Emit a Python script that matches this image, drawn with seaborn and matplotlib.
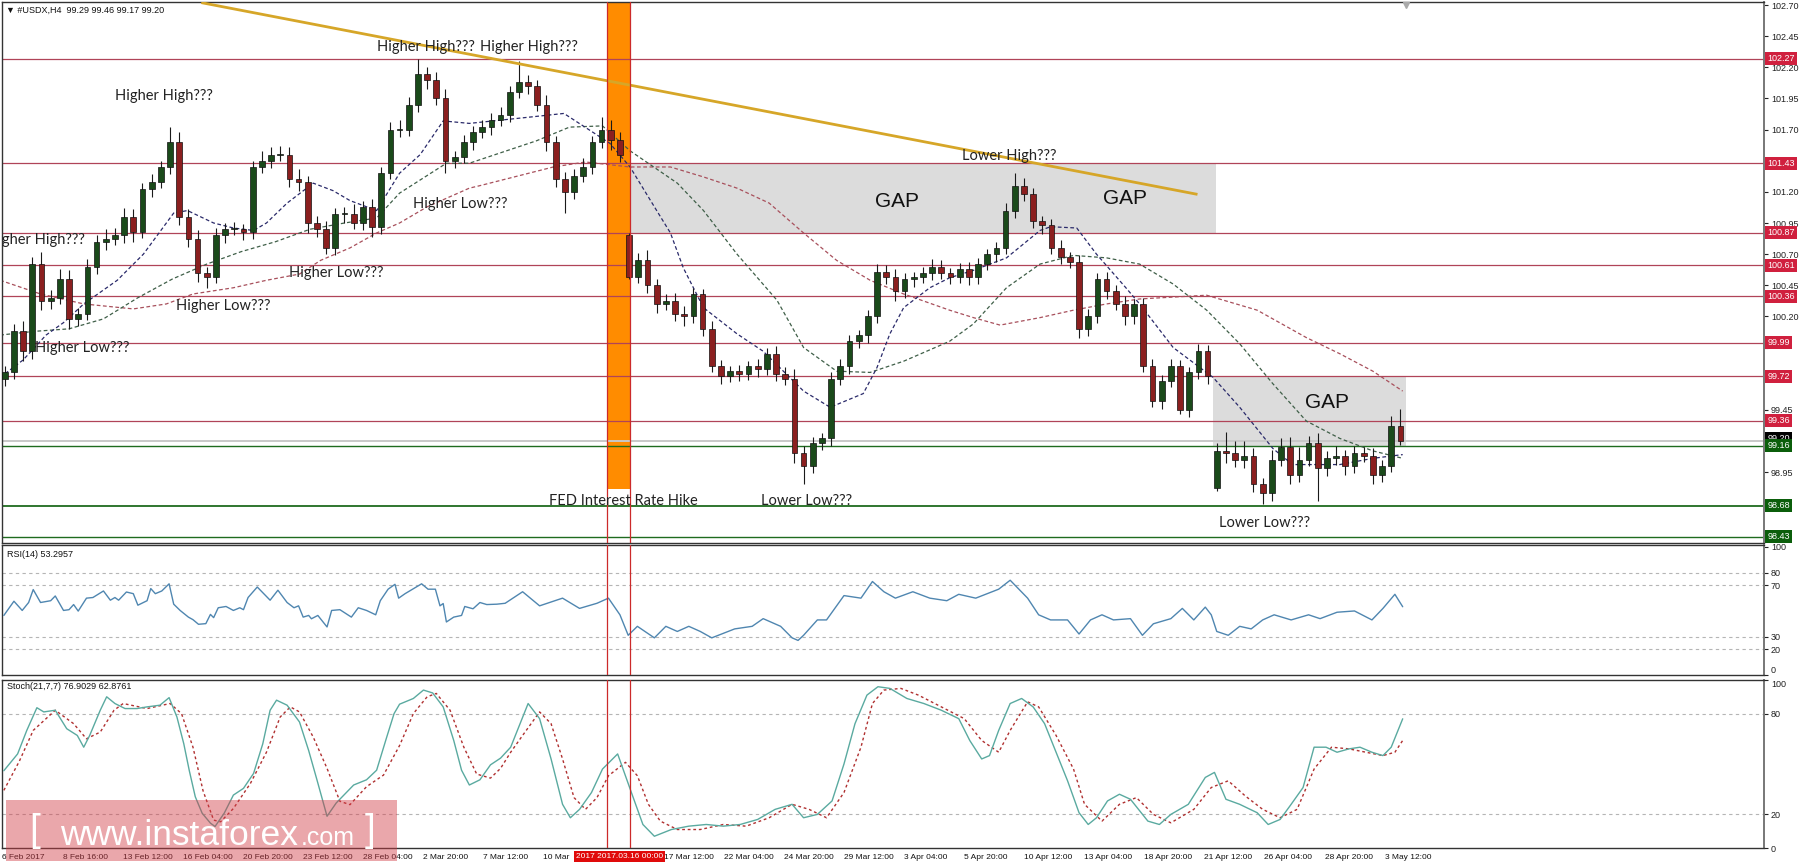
import matplotlib
matplotlib.use("Agg")
import matplotlib.pyplot as plt
import matplotlib.transforms as mtransforms
from matplotlib.patches import Rectangle
import numpy as np
import pandas as pd
import seaborn as sns

# ---- USDX H4 candles (one entry per bar) ----
closes = [
    99.75, 100.08, 99.92, 100.62, 100.32, 100.35, 100.50, 100.18, 100.22, 100.60,
    100.80, 100.82, 100.85, 101.00, 100.88, 101.22, 101.28, 101.40, 101.60, 101.00,
    100.82, 100.55, 100.52, 100.85, 100.90, 100.90, 100.88, 101.40, 101.45, 101.50,
    101.50, 101.30, 101.28, 100.95, 100.90, 100.75, 101.02, 101.02, 100.95, 101.08,
    100.92, 101.35, 101.70, 101.70, 101.90, 102.15, 102.10, 101.95, 101.45, 101.48,
    101.60, 101.68, 101.72, 101.78, 101.82, 102.00, 102.08, 102.05, 101.90, 101.60,
    101.30, 101.20, 101.33, 101.40, 101.60, 101.70, 101.62, 101.50, 100.52, 100.65,
    100.45, 100.30, 100.32, 100.22, 100.20, 100.38, 100.10, 99.80, 99.72, 99.76,
    99.74, 99.80, 99.78, 99.90, 99.74, 99.70, 99.10, 99.00, 99.18, 99.22,
    99.70, 99.80, 100.00, 100.05, 100.20, 100.56, 100.52, 100.40, 100.50, 100.52,
    100.55, 100.60, 100.55, 100.52, 100.58, 100.52, 100.62, 100.70, 100.75, 101.05,
    101.25, 101.18, 100.97, 100.93, 100.75, 100.68, 100.64, 100.10, 100.20, 100.50,
    100.40, 100.30, 100.20, 100.30, 99.80, 99.52, 99.68, 99.80, 99.45, 99.75,
    99.92, 99.72, 99.12, 99.10, 99.05, 99.08, 98.85, 98.78, 99.05, 99.15,
    98.93, 99.05, 99.18, 98.98, 99.06, 99.08, 99.00, 99.10, 99.08, 98.93,
    99.00, 99.32, 99.20,
]
# wick lengths in hundredths above / below the body
upper_wick = [
    5, 6, 8, 6, 10, 6, 8, 7, 5, 6,
    5, 8, 6, 7, 6, 5, 6, 5, 12, 8,
    6, 7, 5, 6, 5, 6, 4, 5, 8, 6,
    7, 6, 8, 5, 6, 7, 5, 6, 8, 5,
    6, 5, 6, 8, 6, 12, 5, 6, 8, 5,
    6, 5, 6, 5, 6, 5, 17, 6, 5, 8,
    5, 6, 5, 7, 5, 10, 8, 6, 2, 6,
    8, 5, 6, 7, 6, 5, 4, 6, 5, 4,
    5, 4, 6, 5, 6, 5, 8, 6, 5, 4,
    5, 6, 5, 4, 5, 6, 5, 6, 5, 4,
    5, 6, 5, 4, 5, 6, 5, 4, 5, 6,
    10, 6, 5, 4, 5, 6, 4, 5, 6, 5,
    6, 5, 6, 4, 5, 6, 5, 6, 5, 4,
    6, 5, 6, 15, 10, 12, 6, 5, 8, 7,
    8, 10, 6, 8, 6, 8, 5, 6, 5, 6,
    5, 8, 14,
]
lower_wick = [
    6, 5, 8, 6, 7, 6, 5, 8, 6, 5,
    6, 7, 5, 6, 8, 5, 6, 5, 6, 7,
    6, 7, 9, 5, 6, 5, 7, 6, 5, 6,
    5, 6, 7, 8, 6, 5, 6, 7, 5, 6,
    8, 6, 5, 6, 5, 6, 7, 5, 10, 6,
    5, 6, 5, 6, 5, 6, 5, 6, 5, 7,
    6, 17, 6, 5, 6, 5, 8, 6, 2, 5,
    6, 7, 5, 6, 8, 5, 6, 5, 6, 5,
    6, 5, 7, 5, 6, 5, 8, 15, 6, 5,
    6, 5, 6, 5, 6, 5, 6, 8, 5, 6,
    5, 6, 5, 6, 5, 7, 6, 5, 6, 5,
    6, 5, 6, 7, 5, 6, 5, 7, 6, 5,
    6, 5, 7, 6, 5, 5, 6, 5, 3, 6,
    5, 6, 2, 8, 6, 7, 6, 9, 6, 5,
    8, 6, 5, 26, 6, 5, 7, 6, 5, 8,
    6, 5, 3,
]
first_open = 99.70
gap_opens = {68: 100.85, 132: 98.82}

# ---- moving averages (bar, price) ----
ma_fast_bar = [-0.5, 2.0, 4.5, 6.4, 8.6, 12.25, 15.1, 18.4, 19.9, 22.75, 24.9, 27.1, 28.5,
               30.75, 33.6, 35.75, 37.6, 40.5, 43.0, 45.25, 47.75, 50.6, 54.5, 57.1, 60.9,
               65.9, 68.1, 71.0, 72.5, 73.9, 76.1, 79.75, 82.6, 87.0, 89.9, 93.5, 95.0,
               96.4, 97.9, 100.75, 102.9, 105.5, 109.1, 112.75, 113.9, 116.75, 118.9,
               122.1, 123.6, 127.25, 131.6, 134.5, 138.1, 140.25, 145.4, 149.0, 152.25]
ma_fast = [99.71, 99.85, 100.05, 100.15, 100.30, 100.49, 100.70, 101.03, 101.05, 100.95,
           100.91, 100.89, 100.95, 101.11, 101.27, 101.21, 101.13, 101.05, 101.35, 101.50,
           101.77, 101.75, 101.78, 101.80, 101.83, 101.59, 101.40, 101.05, 100.87, 100.59,
           100.27, 100.06, 99.92, 99.60, 99.47, 99.58, 99.79, 100.06, 100.27, 100.43,
           100.51, 100.57, 100.67, 100.89, 100.92, 100.91, 100.70, 100.43, 100.30, 99.95,
           99.71, 99.47, 99.14, 99.01, 99.01, 99.06, 99.09]
ma_mid_bar = [-0.5, 3.25, 7.0, 10.75, 14.5, 18.25, 22.0, 25.75, 29.5, 33.25, 37.0, 40.5,
              43.0, 48.1, 50.6, 57.9, 61.5, 65.1, 68.1, 73.25, 76.1, 79.75, 84.1, 87.0,
              90.6, 94.25, 97.9, 102.9, 105.5, 109.1, 112.75, 116.4, 120.0, 123.6, 127.25,
              130.9, 134.5, 138.1, 141.75, 145.4, 149.0, 152.25]
ma_mid = [100.05, 100.08, 100.10, 100.18, 100.35, 100.50, 100.62, 100.72, 100.80, 100.90,
          100.95, 100.99, 101.19, 101.43, 101.43, 101.61, 101.72, 101.73, 101.53, 101.27,
          101.05, 100.70, 100.33, 99.95, 99.76, 99.75, 99.84, 100.00, 100.14, 100.43,
          100.62, 100.69, 100.67, 100.62, 100.46, 100.25, 99.98, 99.66, 99.36, 99.22,
          99.12, 99.06]
ma_slow_bar = [-0.5, 3.9, 8.6, 14.0, 17.6, 20.5, 24.9, 28.5, 32.1, 34.4, 37.6, 40.5, 43.0,
               46.0, 50.6, 51.75, 59.75, 63.25, 68.1, 72.5, 76.1, 79.75, 83.25, 87.0, 90.6,
               94.25, 97.9, 102.9, 105.5, 108.4, 112.75, 116.4, 120.0, 123.6, 130.9, 136.4,
               141.75, 145.4, 149.0, 152.25]
ma_slow = [100.49, 100.38, 100.30, 100.26, 100.30, 100.38, 100.43, 100.49, 100.54, 100.65,
           100.75, 100.87, 100.95, 101.08, 101.23, 101.25, 101.40, 101.44, 101.40, 101.40,
           101.32, 101.23, 101.11, 100.87, 100.65, 100.49, 100.38, 100.25, 100.19, 100.13,
           100.19, 100.25, 100.30, 100.34, 100.37, 100.25, 100.03, 99.90, 99.76, 99.60]

# ---- RSI(14) ----
rsi_bar = [-0.1, 1.0, 1.9, 2.6, 3.1, 3.9, 5.0, 5.5, 6.4, 7.0, 7.5, 8.0, 8.9, 9.6, 10.75,
           11.5, 12.0, 12.4, 13.25, 14.0, 14.5, 15.5, 15.9, 16.4, 17.1, 17.9, 18.4, 19.1,
           20.0, 20.5, 21.1, 21.9, 22.4, 22.75, 23.25, 24.1, 24.9, 25.6, 26.0, 26.5, 27.5,
           28.1, 28.9, 29.75, 30.75, 31.5, 32.0, 32.5, 33.1, 33.4, 34.1, 35.1, 35.6, 36.5,
           37.75, 38.5, 39.4, 40.4, 40.9, 41.75, 42.5, 42.9, 43.6, 45.4, 46.1, 46.9, 47.4,
           47.75, 48.1, 48.9, 49.75, 50.1, 51.0, 51.75, 52.5, 53.6, 54.5, 56.4, 58.25, 60.75,
           62.6, 64.5, 65.75, 67.0, 67.9, 68.9, 70.75, 72.0, 73.25, 74.5, 75.75, 77.0, 79.5,
           81.4, 82.6, 84.5, 85.75, 86.4, 87.0, 88.5, 89.5, 91.4, 93.25, 94.5, 95.75, 97.0,
           98.9, 100.75, 102.6, 103.9, 105.75, 108.25, 109.5, 111.4, 112.6, 113.9, 115.75,
           117.0, 118.25, 119.5, 120.75, 122.6, 123.9, 125.1, 127.0, 128.25, 129.5, 130.75,
           131.4, 132.0, 133.25, 134.5, 135.75, 137.0, 138.25, 140.1, 142.0, 143.25, 145.1,
           147.0, 148.9, 150.1, 151.4, 152.25]
rsi_val = [46.5, 57.6, 50.4, 56.6, 66.7, 56.6, 58, 61.7, 50.4, 51, 55, 49.9, 60, 60.5, 65.6,
           58.4, 60.5, 58.4, 64.8, 63.5, 54.5, 58, 67.5, 63.5, 65.6, 71.2, 55.3, 50.4,
           45.2, 43.2, 39.6, 40.1, 47.3, 44.8, 52.5, 53.5, 50.4, 52.5, 51, 60.5, 68.7,
           64.3, 58.4, 66.2, 56.6, 52.5, 54, 45.2, 46.5, 43.9, 46.5, 37.5, 50.4, 51,
           45.2, 52.5, 50.4, 47, 58, 67, 70.8, 60, 63.5, 71.2, 67, 67, 54,
           55.8, 41.4, 45.2, 46.5, 53.5, 51.7, 56.6, 55, 55.3, 56, 65, 54, 60,
           52, 56, 60, 47, 31, 38, 29, 38, 34, 38, 34, 29, 36,
           38, 44, 38, 29, 27, 31, 43, 43, 62, 60, 73, 65, 60,
           65, 60, 58, 63, 60, 67, 74, 60, 47, 43, 43,
           32, 43, 47, 43, 44, 31, 40, 44, 52, 43, 53,
           47, 34, 31, 38, 36, 43, 47, 43, 47, 44, 49,
           50, 43, 52, 63, 53.3]

# ---- Stochastic(21,7,7) ----
stoch_bar = [-0.1, 1.4, 2.4, 3.5, 4.25, 5.5, 6.75, 7.9, 8.6, 9.25, 10.4, 11.1, 12.0, 13.1,
             14.4, 15.5, 16.9, 17.9, 18.75, 19.5, 20.1, 20.75, 21.5, 22.4, 22.9, 23.9, 24.9,
             26.0, 27.1, 28.1, 28.9, 29.6, 30.75, 32.1, 33.1, 34.0, 35.1, 36.1, 38.0, 39.4,
             40.5, 41.6, 42.4, 43.0, 44.5, 45.6, 46.6, 47.75, 48.9, 49.75, 50.6, 51.75, 52.9,
             54.0, 55.1, 57.0, 58.25, 59.5, 60.75, 61.6, 62.6, 63.9, 65.1, 66.75, 68.25, 69.5,
             70.75, 72.6, 74.5, 76.4, 78.25, 80.1, 82.0, 83.9, 85.75, 87.0, 88.5, 90.1, 91.4,
             92.6, 93.9, 95.1, 96.4, 98.25, 100.1, 102.0, 103.9, 105.1, 106.4, 107.25, 108.25,
             109.5, 110.75, 112.0, 113.25, 114.5, 115.75, 117.0, 118.0, 118.9, 120.1, 121.4,
             122.6, 124.5, 125.75, 127.0, 128.9, 130.75, 131.75, 133.0, 134.5, 136.4, 137.6,
             138.9, 140.1, 141.4, 142.6, 143.9, 145.1, 146.4, 147.6, 148.9, 150.1, 151.0,
             152.25]
stoch_main = [46, 56, 70, 83.5, 81, 82, 71, 67, 60, 67, 82, 90, 86, 83,
              83, 84, 85, 89.5, 78, 62, 46, 30.5, 20.7, 14.8, 12.8, 20.7, 31.5,
              35.5, 44.4, 62, 82, 88, 85, 75, 58, 40.6, 18.9, 26.8, 37.5, 40.6,
              46.3, 66, 80, 85.6, 89, 94, 92.3, 84, 64, 46.3, 37.5, 40.6, 49.5,
              53.5, 60, 86, 77, 53, 26, 18, 23, 33, 47, 56, 33, 14,
              7, 11, 13, 14, 13, 14, 17, 23, 26, 18, 20, 28, 50,
              74, 91, 96, 95, 89, 86, 82, 77, 64, 53, 55, 70,
              86, 89, 84, 74, 57, 40, 21, 14, 18, 28, 32,
              29, 16, 14, 20, 26, 42, 45, 29, 26, 21, 14,
              17, 26, 36, 60, 60, 57, 59, 60, 57, 55, 60,
              76.9]
signal_bar = [-0.1, 1.6, 3.1, 5.5, 7.5, 8.9, 10.4, 11.9, 12.9, 15.5, 18.0, 19.25, 20.5,
              21.6, 22.75, 23.5, 24.9, 26.75, 28.5, 30.0, 31.1, 32.1, 33.6, 35.1, 36.5,
              37.6, 39.4, 41.25, 43.0, 44.5, 46.0, 47.0, 48.5, 50.0, 51.4, 52.9, 54.0, 55.1,
              56.4, 58.25, 59.5, 60.75, 62.0, 63.25, 64.5, 65.75, 67.6, 68.9, 70.1, 71.4,
              73.25, 75.75, 78.25, 80.75, 83.25, 85.75, 87.6, 89.5, 91.4, 93.25, 94.5, 95.75,
              97.6, 99.5, 102.0, 104.5, 106.4, 108.25, 109.5, 111.4, 112.6, 114.5, 116.4,
              117.6, 119.5, 121.4, 123.25, 125.1, 127.0, 129.5, 131.4, 133.25, 135.1, 137.0,
              138.9, 140.75, 142.6, 144.5, 146.4, 148.25, 150.1, 151.4, 152.25]
stoch_signal = [34.3, 51.8, 70, 82, 74, 65, 69, 82, 86, 83, 86, 80, 60,
                34, 16.6, 15.6, 23.5, 38.4, 57, 78, 84, 81, 66, 47.4, 27.8,
                25.8, 36.5, 43.4, 61, 80, 90, 92, 82, 60, 44, 41.6, 47.4, 57,
                67, 81, 74, 53, 30, 23, 30, 43, 51, 43, 26, 16,
                11, 11, 14, 13, 18, 26, 23, 18, 33, 60, 86, 94,
                95, 91, 84, 77, 64, 57, 70, 87, 84, 67, 47,
                26, 16, 26, 30, 20, 15, 23, 36, 40, 31, 23,
                18, 23, 47, 60, 59, 57, 55, 57, 64]

# ---- support / resistance levels ----
levels_red = [102.27, 101.43, 100.87, 100.61, 100.36, 99.99, 99.72, 99.36]
levels_green = [99.16, 98.68, 98.43]
bid_price = 99.20

# "15 Mar" label sits under the red date box in the original, so it is left blank
tick_labels = ["6 Feb 2017", "8 Feb 16:00", "13 Feb 12:00", "16 Feb 04:00", "20 Feb 20:00",
               "23 Feb 12:00", "28 Feb 04:00", "2 Mar 20:00", "7 Mar 12:00", "10 Mar",
               "", "17 Mar 12:00", "22 Mar 04:00", "24 Mar 20:00", "29 Mar 12:00",
               "3 Apr 04:00", "5 Apr 20:00", "10 Apr 12:00", "13 Apr 04:00", "18 Apr 20:00",
               "21 Apr 12:00", "26 Apr 04:00", "28 Apr 20:00", "3 May 12:00"]
bars_per_label = 6.545

annotations = [
    ("Higher High???", 12.0, 101.97), ("Higher High???", 40.5, 102.36),
    ("Higher High???", 51.75, 102.36), ("Higher High???", -1.9, 100.81),
    ("Higher Low???", 3.25, 99.95), ("Higher Low???", 18.6, 100.28),
    ("Higher Low???", 31.0, 100.55), ("Higher Low???", 44.5, 101.10),
    ("FED Interest Rate Hike", 59.25, 98.72), ("Lower Low???", 82.4, 98.72),
    ("Lower High???", 104.25, 101.49), ("Lower Low???", 132.25, 98.54),
]
gap_labels = [(94.75, 101.12), (119.6, 101.15), (141.6, 99.51)]
gap_zones = [(68.1, 131.9, 100.87, 101.43), (131.6, 152.6, 99.16, 99.72)]
fed_lines = (65.6, 68.1)
fed_floor = 98.81
trend = ((21.4, 102.72), (129.9, 101.18))

sns.set_style("white")
plt.rcParams["font.family"] = ["Liberation Sans", "DejaVu Sans"]

# candle table
opens, prev = [], first_open
for i, c in enumerate(closes):
    opens.append(gap_opens.get(i, prev))
    prev = c
df = pd.DataFrame({"bar": np.arange(len(closes)), "open": opens, "close": closes,
                   "uw": upper_wick, "lw": lower_wick})
df["top"] = df[["open", "close"]].max(axis=1)
df["bot"] = df[["open", "close"]].min(axis=1)
df["high"] = df["top"] + df["uw"] / 100
df["low"] = df["bot"] - df["lw"] / 100
df["up"] = df["close"] >= df["open"]

W, H = 1800, 868


def box(x0, y0, x1, y1):
    return [x0 / W, 1 - y1 / H, (x1 - x0) / W, (y1 - y0) / H]


fig = plt.figure(figsize=(18, 8.68), dpi=100)
ax = fig.add_axes(box(2, 2, 1764, 543))
ax_rsi = fig.add_axes(box(2, 545, 1764, 675))
ax_st = fig.add_axes(box(2, 680, 1764, 848))

xlim = (-0.3, 191.6)
for a in (ax, ax_rsi, ax_st):
    a.set_xlim(*xlim)
    a.set_facecolor("white")
    for s in a.spines.values():
        s.set_color("#333333")
        s.set_linewidth(1.0)
    a.spines["right"].set_color("#777777")
    a.spines["right"].set_linewidth(1.4)
    a.yaxis.tick_right()
    a.tick_params(axis="y", direction="out", length=3, labelsize=6.5, pad=2,
                  colors="#222222", width=0.8)
    for v in fed_lines:
        a.axvline(v, color="#cc2a2a", lw=0.9, zorder=6)

# ---- main price panel ----
ax.set_ylim(98.38, 102.725)
ax.set_xticks([])

ax.add_patch(Rectangle((fed_lines[0], fed_floor), fed_lines[1] - fed_lines[0], 5,
                       color="#ff8c00", lw=0, zorder=1))
for x0, x1, y0, y1 in gap_zones:
    ax.add_patch(Rectangle((x0, y0), x1 - x0, y1 - y0, fc="#dcdcdc", ec="none", zorder=0.5))

for lv in levels_red:
    ax.axhline(lv, color="#b04458", lw=0.9, zorder=1.2)
ax.axhline(bid_price, color="#c8c8c8", lw=1.4, zorder=1.1)
for lv in levels_green:
    ax.axhline(lv, color="#1f6b1f", lw=1.3 if lv == 98.68 else 1.0, zorder=1.2)

ma_style = dict(linewidth=0.9, linestyle=(0, (3, 2)), sort=False, estimator=None, legend=False)
sns.lineplot(x=ma_slow_bar, y=ma_slow, ax=ax, color="#a8505c", zorder=2, **ma_style)
sns.lineplot(x=ma_mid_bar, y=ma_mid, ax=ax, color="#3f5f48", zorder=2, **ma_style)
sns.lineplot(x=ma_fast_bar, y=ma_fast, ax=ax, color="#2a2a6a", zorder=2, **ma_style)

ax.vlines(df["bar"], df["low"], df["high"], color="#1a1a1a", lw=0.8, zorder=3)
body_h = np.maximum(df["top"] - df["bot"], 0.008)
ax.bar(df["bar"], body_h, bottom=df["bot"], width=0.62,
       color=np.where(df["up"], "#1a4a1a", "#8b1f1f"), edgecolor="#111111",
       linewidth=0.5, zorder=4)

(tx0, ty0), (tx1, ty1) = trend
ax.plot([tx0, tx1], [ty0, ty1], color="#d6a628", lw=2.0, zorder=5, solid_capstyle="butt")

for txt, x, y in annotations:
    ax.text(x, y, txt, fontsize=10.5, color="#222222", va="center", ha="left",
            family=["Lato", "DejaVu Sans"], zorder=7, clip_on=True)
for x, y in gap_labels:
    ax.text(x, y, "GAP", fontsize=15, color="#111111", va="center", ha="left", zorder=7)

ax.text(0.0025, 0.985, "\u25bc #USDX,H4  99.29 99.46 99.17 99.20", transform=ax.transAxes,
        fontsize=6.5, va="center", ha="left", color="#111111",
        family=["Liberation Sans", "DejaVu Sans"])
ax.plot([152.6], [102.70], marker="v", color="#aaaaaa", markersize=5, zorder=7, clip_on=False)

# price scale: labels hidden where a level box covers them in the original
marked = levels_red + levels_green + [bid_price]
price_ticks = np.round(np.arange(98.70, 102.71, 0.25), 2)
ax.set_yticks(price_ticks)
ax.set_yticklabels(["" if min(abs(p - m) for m in marked) < 0.05 else f"{p:.2f}"
                    for p in price_ticks])
yt = mtransforms.blended_transform_factory(ax.transAxes, ax.transData)
label_x = 1.0018
ax.text(label_x, bid_price + 0.02, f"{bid_price:.2f}", transform=yt, fontsize=6.5,
        color="white", va="center", ha="left", zorder=8,
        bbox=dict(boxstyle="square,pad=0.22", fc="#000000", ec="none"))
for lv in levels_red:
    ax.text(label_x, lv, f"{lv:.2f}", transform=yt, fontsize=6.5, color="white",
            va="center", ha="left", zorder=9,
            bbox=dict(boxstyle="square,pad=0.22", fc="#d0203e", ec="none"))
for lv in levels_green:
    ax.text(label_x, lv, f"{lv:.2f}", transform=yt, fontsize=6.5, color="white",
            va="center", ha="left", zorder=9,
            bbox=dict(boxstyle="square,pad=0.22", fc="#0b5e0b", ec="none"))

# ---- RSI panel ----
ax_rsi.set_ylim(0, 101.5)
ax_rsi.set_xticks([])
for lv in (80, 70, 30, 20):
    ax_rsi.axhline(lv, color="#b5b5b5", lw=0.8, linestyle=(0, (3, 3)), zorder=1)
sns.lineplot(x=rsi_bar, y=rsi_val, ax=ax_rsi, color="#4f86b0", linewidth=1.0,
             sort=False, estimator=None, legend=False, zorder=3)
ax_rsi.set_yticks([0, 20, 30, 70, 80, 100])
ax_rsi.set_yticklabels(["0", "20", "30", "70", "80", "100"])
ax_rsi.get_yticklabels()[0].set_verticalalignment("bottom")
ax_rsi.text(0.003, 0.93, "RSI(14) 53.2957", transform=ax_rsi.transAxes, fontsize=6.5,
            va="center", ha="left", color="#111111")
ax_rsi.set_xlabel("")
ax_rsi.set_ylabel("")

# ---- Stochastic panel ----
ax_st.set_ylim(0, 100)
for lv in (80, 20):
    ax_st.axhline(lv, color="#b5b5b5", lw=0.8, linestyle=(0, (3, 3)), zorder=1)
sns.lineplot(x=signal_bar, y=stoch_signal, ax=ax_st, color="#b03030", linewidth=1.0,
             linestyle=(0, (2, 2)), sort=False, estimator=None, legend=False, zorder=3)
sns.lineplot(x=stoch_bar, y=stoch_main, ax=ax_st, color="#5aaaa0", linewidth=1.0,
             sort=False, estimator=None, legend=False, zorder=4)
ax_st.set_yticks([0, 20, 80, 100])
ax_st.set_yticklabels(["0", "20", "80", "100"])
ax_st.get_yticklabels()[-1].set_verticalalignment("top")
ax_st.text(0.003, 0.964, "Stoch(21,7,7) 76.9029 62.8761", transform=ax_st.transAxes,
           fontsize=6.5, va="center", ha="left", color="#111111")
tick_pos = -0.25 + bars_per_label * np.arange(len(tick_labels))
ax_st.set_xticks(tick_pos)
ax_st.set_xticklabels(tick_labels, ha="left", fontsize=6, color="#111111")
ax_st.tick_params(axis="x", direction="out", length=3, pad=1.5, width=0.8)
ax_st.set_xlabel("")
ax_st.set_ylabel("")

xt = mtransforms.blended_transform_factory(ax_st.transData, ax_st.transAxes)
ax_st.text(62.2, -0.028, "2017 2017.03.16 00:00", transform=xt, fontsize=6, color="white",
           va="top", ha="left", zorder=10,
           bbox=dict(boxstyle="square,pad=0.25", fc="#e00a0a", ec="none"))

# ---- watermark ----
fig.patches.append(Rectangle((6 / W, 1 - 861 / H), 391 / W, 61 / H, transform=fig.transFigure,
                             fc="#d23c46", alpha=0.45, ec="none", zorder=20))
fig.text(29 / W, 1 - 831 / H, "[", color="white", fontsize=28, va="center", ha="left", zorder=21)
fig.text(60 / W, 1 - 845 / H, "www.instaforex", color="white", fontsize=25.5,
         va="baseline", ha="left", zorder=21)
fig.text(301 / W, 1 - 845 / H, ".com", color="white", fontsize=18, va="baseline",
         ha="left", zorder=21)
fig.text(365 / W, 1 - 831 / H, "]", color="white", fontsize=28, va="center", ha="left", zorder=21)

fig.savefig("out.png", dpi=100)
